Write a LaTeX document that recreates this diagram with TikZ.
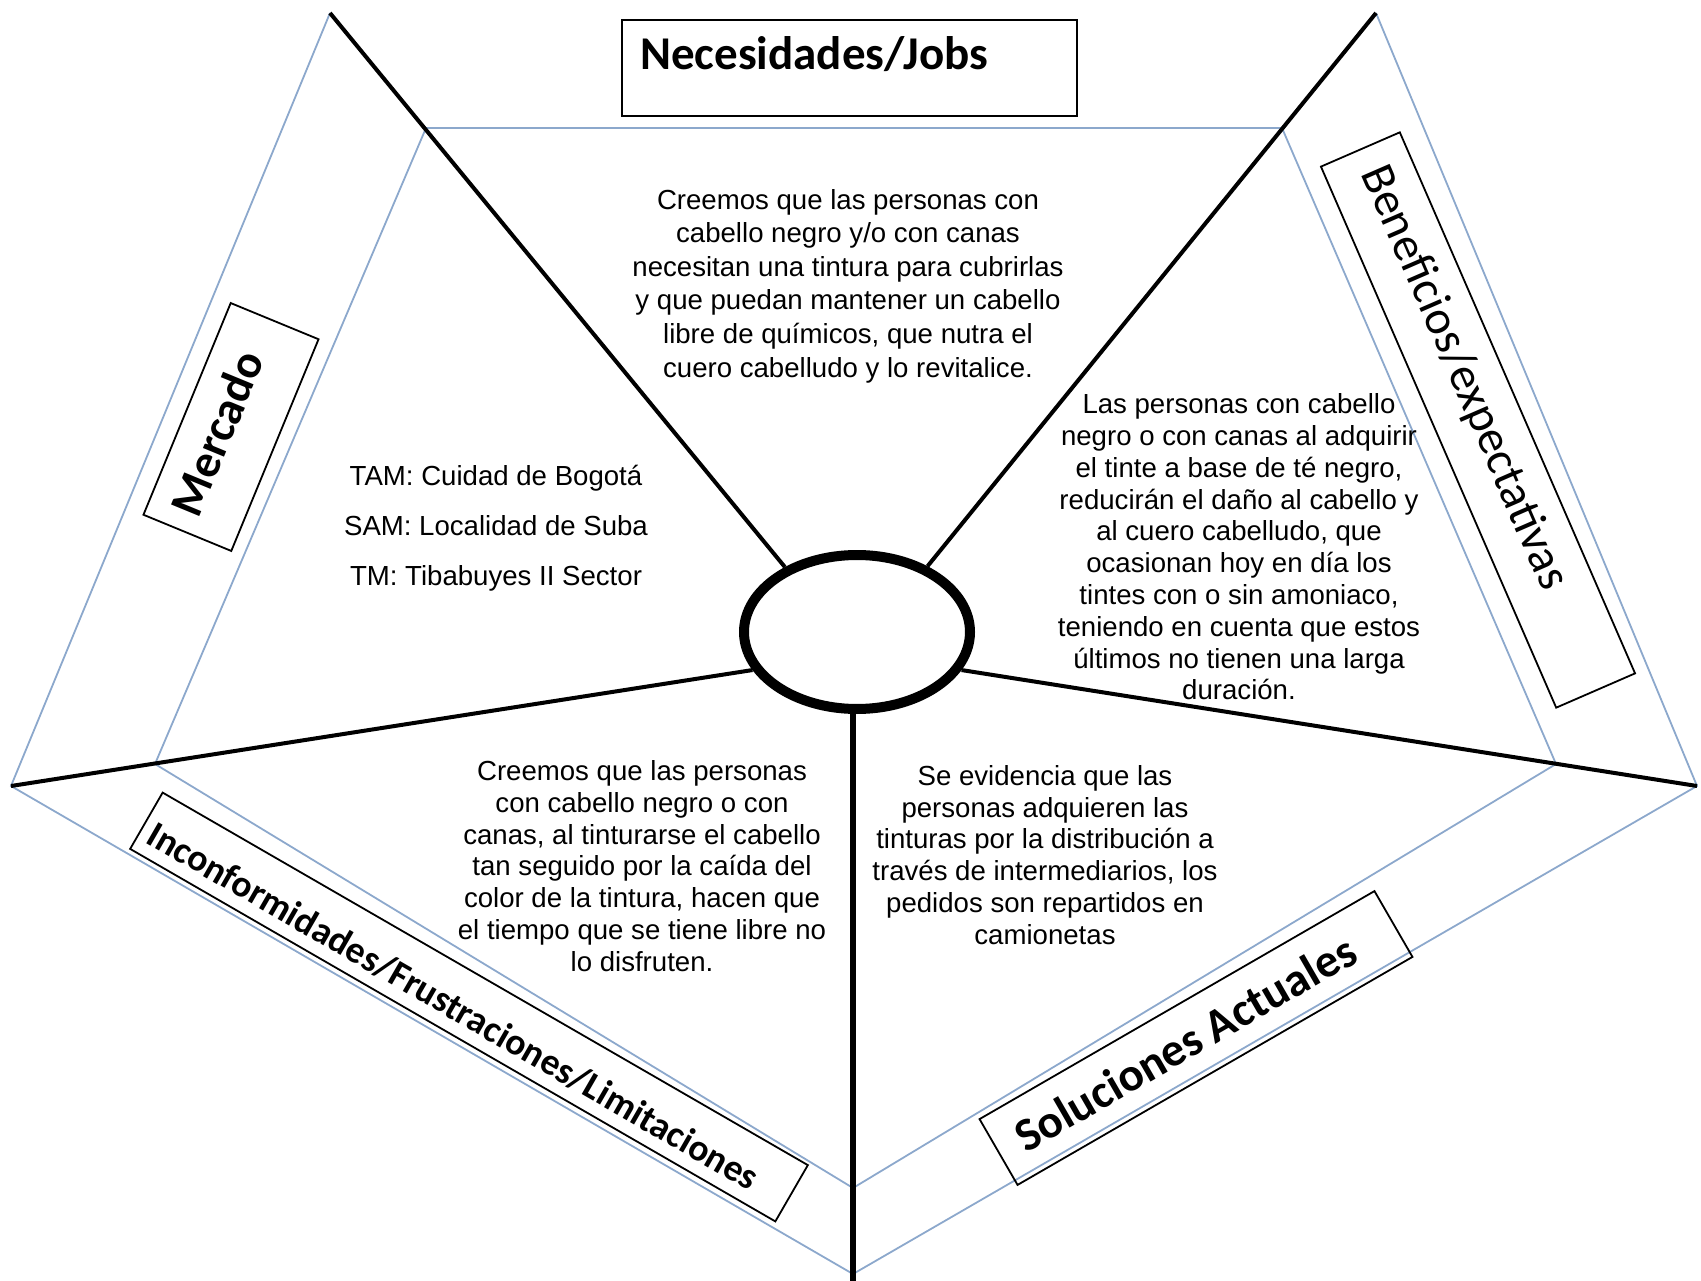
\documentclass[tikz,border=0pt]{standalone}
\usepackage{fontspec}
\setmainfont{Liberation Sans}
\newfontfamily\labfont{Carlito}
\usetikzlibrary{shapes.geometric}
\definecolor{edgeblue}{RGB}{140,168,204}
\begin{document}
\begin{tikzpicture}[x=1pt,y=-1pt,
  spoke/.style={line width=4pt, black},
  edge/.style={line width=1.8pt, edgeblue},
  labbox/.style={draw, line width=1.8pt, inner sep=0pt},
  labtext/.style={font=\labfont\bfseries\fontsize{47}{56}\selectfont, inner sep=0pt},
  labtextreg/.style={font=\labfont\fontsize{48}{56}\selectfont, inner sep=0pt},
  body/.style={font=\fontsize{27.6}{31.8}\selectfont, align=center, inner sep=0pt}]
\useasboundingbox (0,0) rectangle (1701,1281);
% outer vertices
\coordinate (oTL) at (330,13);
\coordinate (oTR) at (1376,13);
\coordinate (oL) at (11,786);
\coordinate (oR) at (1697,786);
\coordinate (oB) at (853,1274);
\coordinate (bEnd) at (853,1284);
% inner vertices
\coordinate (iTL) at (426,128);
\coordinate (iTR) at (1282,128);
\coordinate (iL) at (155,764);
\coordinate (iR) at (1556,764);
\coordinate (iB) at (853,1188);
% blue edges
\draw[edge] (oTL) -- (oL) -- (oB) -- (oR) -- (oTR);
\draw[edge] (iTL) -- (iTR) -- (iR) -- (iB) -- (iL) -- cycle;
% centre
\node[draw, ellipse, line width=10pt, fill=white, inner sep=0pt,
      minimum width=226pt, minimum height=154pt] (c) at (857,632) {};
\draw[spoke] (c.138.4) -- (oTL);
\draw[spoke] (c.43.7) -- (oTR);
\draw[spoke] (c.200.5) -- (oL);
\draw[spoke] (c.-20.3) -- (oR);
\draw[spoke, line width=6pt] (c.south -| bEnd) -- (bEnd);
% labels
\node[labbox, anchor=north west, minimum width=455pt, minimum height=96pt] (necBox) at (621,19) {};
\node[labtext, anchor=base west] (nec) at (640,70) {Necesidades/Jobs};
\node[labbox, minimum width=229pt, minimum height=95pt, rotate=67.6] (mercBox) at (231,427) {};
\node[labtext, rotate=67.6] (merc) at (217,433) {Mercado};
\node[labbox, minimum width=590pt, minimum height=86pt, rotate=-66.5] (benBox) at (1478,420) {};
\node[labtextreg, rotate=-66.5] (ben) at (1464,378) {Beneficios/expectativas};
\node[labbox, minimum width=456pt, minimum height=76pt, rotate=30] (solBox) at (1196,1038) {};
\node[labtext, rotate=30] (sol) at (1185,1043) {Soluciones Actuales};
\node[labbox, minimum width=745pt, minimum height=65pt, rotate=-30] (incBox) at (469,1007) {};
\node[labtext, font=\labfont\bfseries\fontsize{37.5}{44}\selectfont, rotate=-30] (inc) at (453,1006) {Inconformidades/Frustraciones/Limitaciones};
% body texts
\node[body, font=\fontsize{27.6}{33.6}\selectfont] (tNec) at (848,286) {Creemos que las personas con\\cabello negro y/o con canas\\necesitan una tintura para cubrirlas\\y que puedan mantener un cabello\\libre de químicos, que nutra el\\cuero cabelludo y lo revitalice.};
\node[body, font=\fontsize{27.6}{50}\selectfont] (tMerc) at (496,528) {TAM: Cuidad de Bogotá\\SAM: Localidad de Suba\\TM: Tibabuyes II Sector};
\node[body] (tBen) at (1239,547) {Las personas con cabello\\negro o con canas al adquirir\\el tinte a base de té negro,\\reducirán el daño al cabello y\\al cuero cabelludo, que\\ocasionan hoy en día los\\tintes con o sin amoniaco,\\teniendo en cuenta que estos\\últimos no tienen una larga\\duración.};
\node[body] (tInc) at (642,866) {Creemos que las personas\\con cabello negro o con\\canas, al tinturarse el cabello\\tan seguido por la caída del\\color de la tintura, hacen que\\el tiempo que se tiene libre no\\lo disfruten.};
\node[body] (tSol) at (1045,855) {Se evidencia que las\\personas adquieren las\\tinturas por la distribución a\\través de intermediarios, los\\pedidos son repartidos en\\camionetas};
\end{tikzpicture}
\end{document}
